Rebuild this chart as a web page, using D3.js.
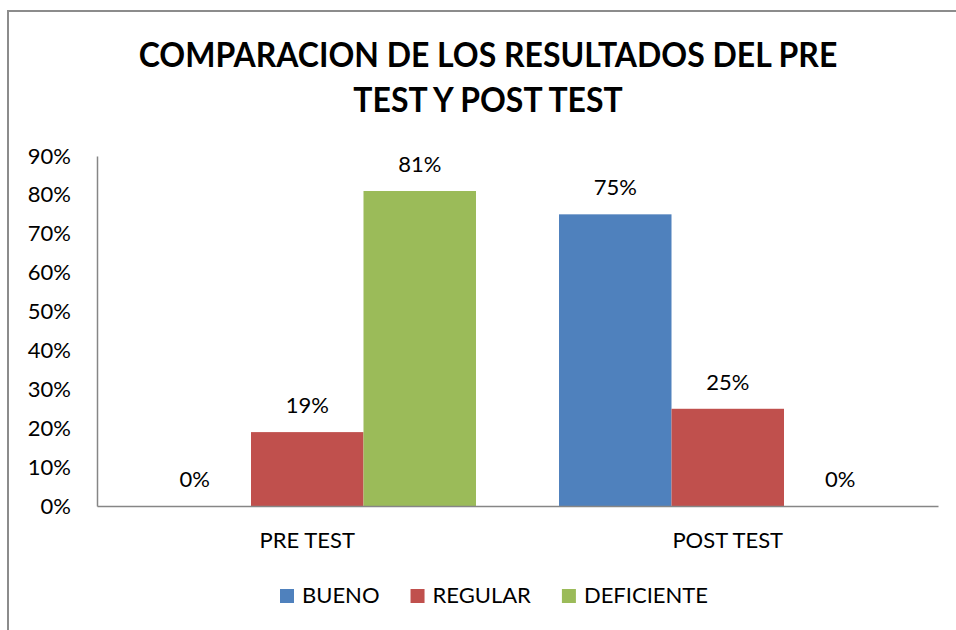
<!DOCTYPE html>
<html>
<head>
<meta charset="utf-8">
<script type="text/javascript" src="https://d3js.org/d3.v7.min.js"></script>
<title>Comparacion pre test y post test</title>
<style>
body { margin:0; background:#fff; }
text { font-family: Lato, "Open Sans", sans-serif; fill:#000; }
</style>
</head>
<body>
<div id="chart"></div>

<script type="text/javascript">
var categories = ["PRE TEST", "POST TEST"];
var series = ["BUENO", "REGULAR", "DEFICIENTE"];
var colors = ["#4F81BD", "#C0504D", "#9BBB59"];
var bueno = [0.00, 0.75];
var regular = [0.19, 0.25];
var deficiente = [0.81, 0.00];
var yTicks = [0, 0.1, 0.2, 0.3, 0.4, 0.5, 0.6, 0.7, 0.8, 0.9];
var titleLines = ["COMPARACION DE LOS RESULTADOS DEL PRE", "TEST Y POST TEST"];

(function(){

var w = 956, h = 630;
var left = 97, right = 938, top = 156, bottom = 506;

var values = [bueno, regular, deficiente];
var rows = [];
categories.forEach(function(c, i) {
  series.forEach(function(s, j) {
    rows.push({cat: c, ser: s, v: values[j][i], color: colors[j]});
  });
});

var svg = d3.select("#chart").append("svg")
  .attr("width", w).attr("height", h);

// outer frame (runs off the right and bottom edges)
svg.append("rect")
  .attr("x", 8).attr("y", 11)
  .attr("width", 1000).attr("height", 700)
  .attr("fill", "#fff").attr("stroke", "#8c8c8c").attr("stroke-width", 2);

// title, squeezed a little to get the narrow Calibri look
svg.selectAll("text.title")
  .data(titleLines)
  .enter().append("text")
  .attr("class", "title")
  .attr("x", 488)
  .attr("y", function(d, i) { return 67 + i * 45; })
  .attr("text-anchor", "middle")
  .attr("font-size", 34)
  .attr("font-weight", "bold")
  .text(function(d) { return d; })
  .each(function() {
    var len = this.getComputedTextLength();
    d3.select(this).attr("textLength", len * 0.94).attr("lengthAdjust", "spacingAndGlyphs");
  });

var x0 = d3.scaleBand().domain(categories).range([left, right]);
var x1 = d3.scaleBand().domain(series).range([0, x0.bandwidth()])
  .paddingInner(0).paddingOuter(0.369);
var y = d3.scaleLinear().domain([0, 0.9]).range([bottom, top]);

var yAxis = svg.append("g")
  .attr("transform", "translate(" + left + ",0)")
  .call(d3.axisLeft(y).tickValues(yTicks).tickFormat(d3.format(".0%")).tickSize(0).tickPadding(26));
yAxis.select(".domain").attr("stroke", "#868686").attr("stroke-width", 1.5);
yAxis.selectAll("text").attr("font-size", 22).attr("font-family", "Lato, 'Open Sans', sans-serif");

svg.selectAll("rect.bar")
  .data(rows)
  .enter().append("rect")
  .attr("class", "bar")
  .attr("x", function(d) { return x0(d.cat) + x1(d.ser); })
  .attr("y", function(d) { return y(d.v); })
  .attr("width", x1.bandwidth())
  .attr("height", function(d) { return bottom - y(d.v); })
  .attr("fill", function(d) { return d.color; });

svg.selectAll("text.lbl")
  .data(rows)
  .enter().append("text")
  .attr("class", "lbl")
  .attr("x", function(d) { return x0(d.cat) + x1(d.ser) + x1.bandwidth() / 2; })
  .attr("y", function(d) { return y(d.v) - 19; })
  .attr("text-anchor", "middle")
  .attr("font-size", 22)
  .text(function(d) { return d3.format(".0%")(d.v); });

var xAxis = svg.append("g")
  .attr("transform", "translate(0," + bottom + ")")
  .call(d3.axisBottom(x0).tickSize(0).tickPadding(26));
xAxis.select(".domain").attr("stroke", "#868686").attr("stroke-width", 1.5);
xAxis.selectAll("text").attr("font-size", 22).attr("font-family", "Lato, 'Open Sans', sans-serif");

// legend
var lx = 280;
series.forEach(function(s, i) {
  svg.append("rect")
    .attr("x", lx).attr("y", 589)
    .attr("width", 14).attr("height", 14)
    .attr("fill", colors[i]);
  var t = svg.append("text")
    .attr("x", lx + 22).attr("y", 603)
    .attr("font-size", 22)
    .text(s);
  lx += 22 + t.node().getComputedTextLength() + 31;
});

})();
</script>
</body>
</html>
